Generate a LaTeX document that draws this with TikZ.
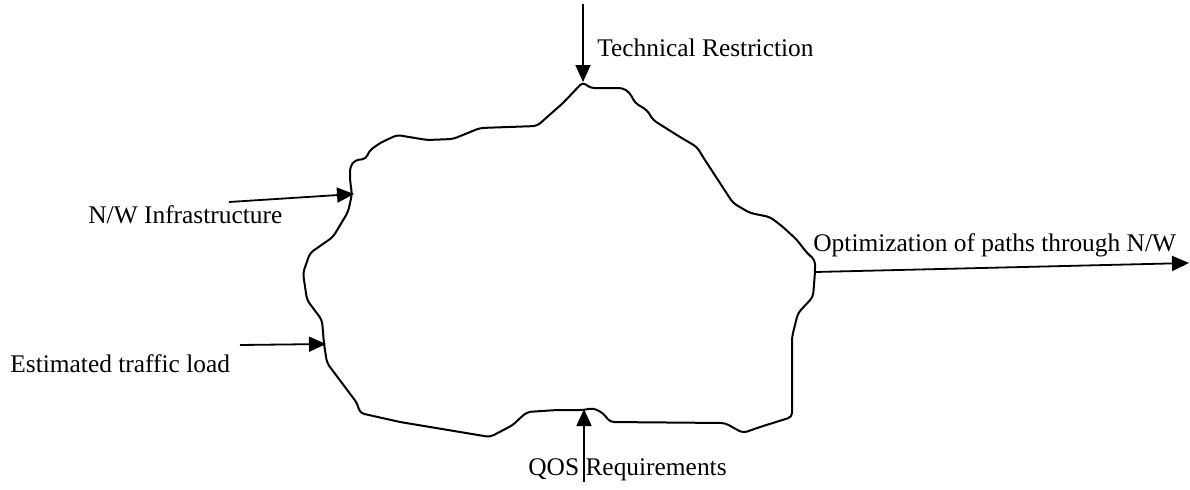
\documentclass[tikz,border=0pt]{standalone}
\usepackage{fontspec}
\setmainfont{Liberation Serif}
\usepackage{tikz}
\usetikzlibrary{arrows.meta}

\tikzset{
  lbl/.style={anchor=west,inner sep=0pt,font=\fontsize{12.7}{15}\selectfont},
  flow/.style={line width=0.9pt,-{Triangle[length=8.5pt,width=7.5pt]}},
  blob/.style={line width=1pt,line join=round,rounded corners=2pt}
}

\begin{document}
\begin{tikzpicture}[x=0.5pt,y=-0.5pt]
    \useasboundingbox (0,0) rectangle (1190,489);
    % the process cloud
    \draw [blob] (583,82) -- (590,88) -- (623,88) -- (630,93) -- (635,103) -- (647,110)
      -- (653,120) -- (680,137) -- (697,147) -- (703,157) -- (733,203) -- (750,213)
      -- (770,217) -- (783,227) -- (797,240) -- (807,253) -- (815,260) -- (815,272)
      -- (813,297) -- (798,313) -- (792,337) -- (792,417) -- (760,427) -- (743,433)
      -- (725,423) -- (610,422) -- (603,413) -- (593,408) -- (584,410) -- (557,410)
      -- (527,412) -- (518,420) -- (513,425) -- (490,437) -- (400,422) -- (360,413)
      -- (357,403) -- (327,363) -- (324,344) -- (322,320) -- (307,300) -- (303,273)
      -- (310,253) -- (333,237) -- (348,212) -- (352,194) -- (350,180) -- (350,167)
      -- (355,160) -- (366,159) -- (369,151) -- (380,143) -- (397,135)
      -- (427,140) -- (453,139) -- (480,128) -- (537,126) -- (563,103) -- cycle;

    \coordinate (peak) at (583,82);
    \coordinate (nwin) at (354,194);
    \coordinate (trin) at (326,344);
    \coordinate (qosin) at (584,409);
    \coordinate (optout) at (815,272);

    \coordinate (trsrc) at (583,4);
    \coordinate (nwsrc) at (229,202);
    \coordinate (tlsrc) at (240,345);
    \coordinate (qossrc) at (584,482);
    \coordinate (optend) at (1189,263);

    \node [lbl] (tr) at (597,48) {Technical Restriction};
    \node [lbl] (nw) at (88,215) {N/W Infrastructure};
    \node [lbl] (tl) at (10,364) {Estimated traffic load};
    \node [lbl] (qos) at (528,470) {QOS Requirements};
    \node [lbl] (opt) at (813,245) {Optimization of paths through N/W};

    \draw [flow] (trsrc) -- (peak);
    \draw [flow] (nwsrc) -- (nwin);
    \draw [flow] (tlsrc) -- (trin);
    \draw [flow] (qossrc) -- (qosin);
    \draw [flow] (optout) -- (optend);
\end{tikzpicture}
\end{document}
